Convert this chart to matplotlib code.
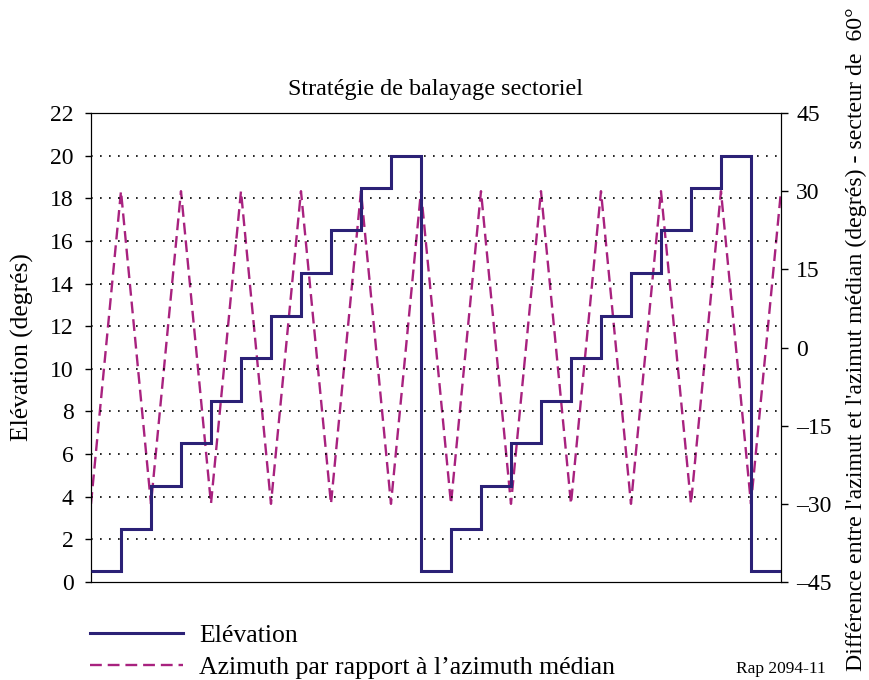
import numpy as np
from matplotlib import pyplot as plt
from matplotlib.lines import Line2D

plt.rcParams['font.family'] = ['Liberation Serif', 'DejaVu Serif']

# elevation level held during each scan step (two full cycles)
elevation = [0.5, 2.5, 4.5, 6.5, 8.5, 10.5, 12.5, 14.5, 16.5, 18.5, 20,
             0.5, 2.5, 4.5, 6.5, 8.5, 10.5, 12.5, 14.5, 16.5, 18.5, 20,
             0.5]
step_edges = list(range(24))

# azimuth offset from the median azimuth at each step boundary
azimuth_t = list(range(24))
azimuth = [-30, 30, -30, 30, -30, 30, -30, 30, -30, 30, -30, 30,
           -30, 30, -30, 30, -30, 30, -30, 30, -30, 30, -30, 30]

left_ticks = [0, 2, 4, 6, 8, 10, 12, 14, 16, 18, 20, 22]
right_ticks = [-45, -30, -15, 0, 15, 30, 45]

elev_color = '#2b2176'
azim_color = '#a8227f'

fig = plt.figure(figsize=(8.69, 6.8), dpi=100)
ax = fig.add_axes([0.1047, 0.1441, 0.794, 0.6897])
ax2 = ax.twinx()

# dotted guide lines at each elevation tick
for v in left_ticks[1:-1]:
    ax.axhline(v, color='black', lw=1.2, ls=(0, (1, 4.4)), zorder=1)

ax.stairs(elevation, step_edges, color=elev_color, lw=2.2, baseline=None, zorder=3)
ax2.plot(azimuth_t, azimuth, color=azim_color, lw=1.7, ls=(0, (5, 2.5)), zorder=2)

ax.set_xlim(0, 23)
ax.set_ylim(0, 22)
ax2.set_ylim(-45, 45)
ax.set_yticks(left_ticks)
ax2.set_yticks(right_ticks)
ax2.set_yticklabels([str(t).replace('-', '\u2013') for t in right_ticks])
ax.set_xticks([])

ax.tick_params(axis='y', labelsize=17, length=4, width=1, pad=8.5)
ax2.tick_params(axis='y', labelsize=17, length=5, width=1, pad=6)

ax.set_zorder(ax2.get_zorder() + 1)
ax.patch.set_visible(False)

ax.set_title('Stratégie de balayage sectoriel', fontsize=17.4, pad=13)
ax.set_ylabel('Elévation (degrés)', fontsize=18.4)
ax.yaxis.set_label_coords(-0.082, 0.5)
ax2.set_ylabel("Différence entre l'azimut et l'azimut médian (degrés) - secteur de  60°",
               fontsize=17.2)
ax2.yaxis.set_label_coords(1.094, 0.518)

handles = [Line2D([], [], color=elev_color, lw=2.2),
           Line2D([], [], color=azim_color, lw=1.7, ls=(0, (5, 2.5)))]
fig.legend(handles, ['Elévation', 'Azimuth par rapport à l\u2019azimuth médian'],
           loc='upper left', bbox_to_anchor=(0.092, 0.098), frameon=False,
           fontsize=18.5, handlelength=3.6, handletextpad=0.63, labelspacing=0.36,
           borderaxespad=0)

fig.text(0.95, 0.004, 'Rap 2094-11', fontsize=12.5, ha='right', va='bottom')

fig.savefig('out.png', dpi=100)
